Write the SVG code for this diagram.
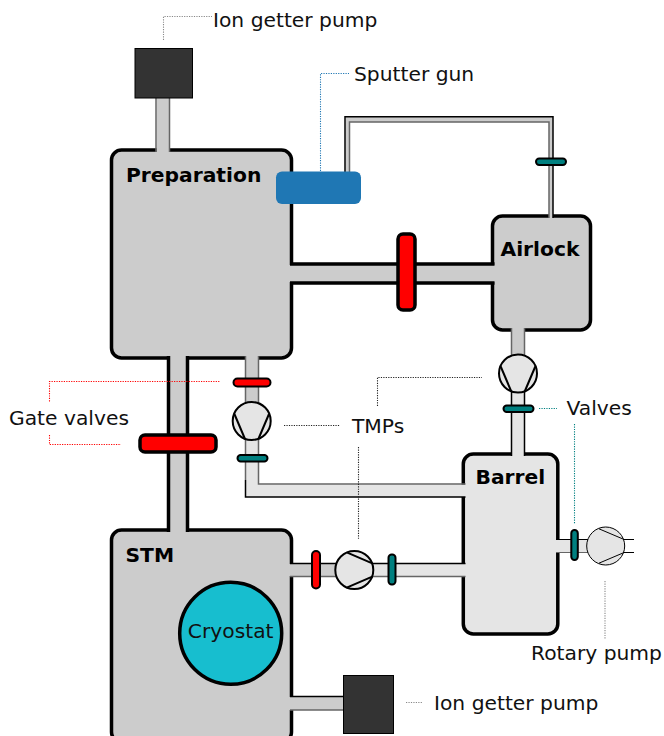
<svg xmlns="http://www.w3.org/2000/svg" width="664" height="736" viewBox="0 0 664 736">
<style>
text{font-family:"DejaVu Sans",sans-serif;font-size:20.25px;fill:#111}
.b{font-weight:bold;fill:#000}
.ch{stroke:#000;stroke-width:3.5}
.c{fill:#ccc}
.e{fill:#e5e5e5}
.k,.g,.t{fill:none;stroke-width:1.5}
.k{stroke:#000}
.g{stroke:#666}
.t{stroke:#000;stroke-width:3.5}
.d{fill:none;stroke-width:1.1;stroke-dasharray:1.2 1.25}
.ion{fill:#333;stroke:#000;stroke-width:1}
.vr{fill:#f00;stroke:#000;stroke-width:2}
.vt{fill:#008080;stroke:#000;stroke-width:2}
.p{fill:#e5e5e5;stroke:#000;stroke-width:2}
.thin{stroke-width:1}
.heavy{stroke-width:3.5}
</style>
<defs>
<g id="pump">
<circle r="19" cx="0" cy="0"/>
<path d="M-17.3 -7L-6.7 18M17.3 -7L6.7 18" fill="none"/>
</g>
</defs>
<g id="preparation"><rect class="ch c" x="111.500" y="150" width="180" height="208" rx="10"/></g>
<g id="airlock"><rect class="ch c" x="492.500" y="216" width="98" height="114" rx="10"/></g>
<g id="barrel"><rect class="ch e" x="463.300" y="454" width="94.500" height="180" rx="10"/></g>
<g id="stm"><rect class="ch c" x="111.500" y="530" width="180" height="212" rx="10"/></g>
<g id="connectors">
<rect class="c" x="156.500" y="98" width="13" height="54"/><path class="g" d="M156 98V152M169.500 98V152"/>
<path class="c" d="M345.500 172V117H553V218H549V122H349.500V172Z"/><path class="k" d="M345 172V116.800H553V218"/><path class="g" d="M349.500 172V122H549V218"/>
<rect class="c" x="289" y="265" width="206" height="17"/><path class="t" d="M290 264H494.500M290 283H494.500"/>
<rect class="c" x="512" y="328" width="12" height="30"/><path class="g" d="M511.500 328V356M524.500 328V356"/>
<rect class="e" x="512" y="390" width="12" height="66"/><path class="k" d="M511.500 390V456M524.500 390V456"/>
<rect class="c" x="170" y="356" width="17" height="176"/><path class="t" d="M168.500 356V532M187.500 356V532"/>
<rect class="c" x="246" y="356" width="12" height="50"/><path class="g" d="M245.500 356V405M258.500 356V405"/>
<path class="e" d="M246 438H258V484.500H466V497H246Z"/><path class="g" d="M258.500 438V484H465.500"/><path class="g" d="M245.500 438V480"/><path class="k" d="M245.500 480V497H465.500"/>
<rect class="c" x="289" y="564" width="51" height="12"/><path class="k" d="M290 563.500H340"/><path class="g" d="M290 576.500H340"/>
<rect class="e" x="370" y="564" width="97" height="12"/><path class="k" d="M370 563.500H465.500"/><path class="g" d="M370 576.500H465.500"/>
<rect class="e" x="555" y="540" width="37" height="12"/><path class="k thin" d="M556 539.500H592M619 539.500H634"/><path class="g thin" d="M556 552.500H592"/><path class="k thin" d="M619 552.500H634"/>
<rect class="c" x="289" y="697" width="55" height="13"/><path class="k" d="M290 696.500H343"/><path class="g" d="M290 710H343"/>
<path class="d" stroke="#888" d="M163.500 40V16.500H212"/>
<path class="d" stroke="#1f77b4" d="M320.500 171V73.500H349"/>
<path class="d" stroke="#f00" d="M49.500 401.500V381.500H220"/>
<path class="d" stroke="#f00" d="M49.500 435V444.500H121"/>
<path class="d" stroke="#222" d="M284 425.500H340"/>
<path class="d" stroke="#222" d="M377.500 406V377.500H482"/>
<path class="d" stroke="#222" d="M358.500 447V539"/>
<path class="d" stroke="#008080" d="M539 408.500H557"/>
<path class="d" stroke="#008080" d="M574.500 424V524"/>
<path class="d" stroke="#888" d="M605 581V639"/>
<path class="d" stroke="#888" d="M406 702.500H423"/>
</g>
<g id="ion-pump-top"><rect class="ion" x="135" y="48.500" width="57.500" height="49.500"/></g>
<g id="ion-pump-bottom"><rect class="ion" x="343.500" y="675.500" width="50" height="58"/></g>
<g id="sputter-gun"><rect x="276" y="171.500" width="85" height="32.500" rx="6" fill="#1f77b4"/></g>
<g id="cryostat"><circle cx="230.700" cy="633.300" r="51" fill="#17becf" stroke="#000" stroke-width="3.500"/><text x="230.700" y="638" text-anchor="middle">Cryostat</text></g>
<g id="tmp-1"><use href="#pump" class="p" transform="translate(518 373.500)"/></g>
<g id="tmp-2"><use href="#pump" class="p" transform="translate(251.700 421)"/></g>
<g id="tmp-3"><use href="#pump" class="p" transform="translate(354.300 570) rotate(-90)"/></g>
<g id="rotary-pump"><use href="#pump" class="p thin" transform="translate(605.700 546) rotate(-90)"/></g>
<g id="gate-valve-1"><rect class="vr heavy" x="398" y="234" width="17" height="76" rx="5"/></g>
<g id="gate-valve-2"><rect class="vr heavy" x="140" y="435" width="76" height="17" rx="5"/></g>
<g id="gate-valve-3"><rect class="vr" x="233.500" y="378.500" width="37" height="8" rx="4"/></g>
<g id="gate-valve-4"><rect class="vr" x="312" y="551" width="8" height="37.500" rx="4"/></g>
<g id="valve-1"><rect class="vt" x="536" y="158.500" width="30" height="6.500" rx="3.200"/></g>
<g id="valve-2"><rect class="vt" x="503.500" y="405.500" width="30" height="6.500" rx="3.200"/></g>
<g id="valve-3"><rect class="vt" x="237.500" y="455" width="30" height="6.500" rx="3.200"/></g>
<g id="valve-4"><rect class="vt" x="388.500" y="554.500" width="7" height="30" rx="3.200"/></g>
<g id="valve-5"><rect class="vt" x="571.300" y="530" width="6.500" height="30" rx="3.200"/></g>
<g id="labels">
<text class="b" x="126" y="182">Preparation</text>
<text class="b" x="500.500" y="255.500">Airlock</text>
<text class="b" x="475.500" y="483.500">Barrel</text>
<text class="b" x="125.500" y="561.500">STM</text>
<text x="213" y="26.500">Ion getter pump</text>
<text x="354" y="81">Sputter gun</text>
<text x="9" y="424.500">Gate valves</text>
<text x="352" y="432.500">TMPs</text>
<text x="566.500" y="414.500">Valves</text>
<text x="531" y="660">Rotary pump</text>
<text x="434" y="710">Ion getter pump</text>
</g>
</svg>
